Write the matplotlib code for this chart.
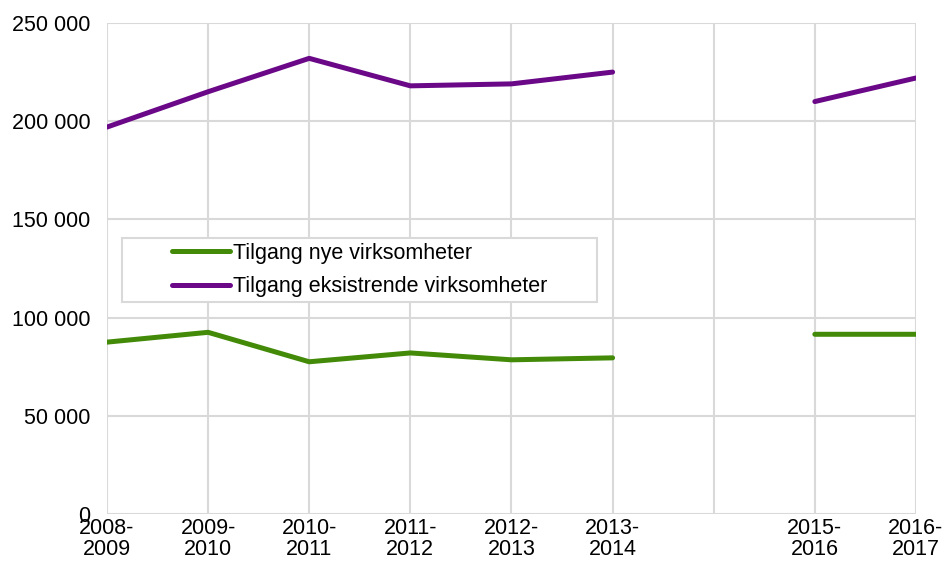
import numpy as np
import matplotlib.pyplot as plt
from matplotlib.patches import Rectangle

plt.rcParams['font.family'] = ['Liberation Sans', 'DejaVu Sans']

# Perioder (2014-2015 mangler)
perioder = ["2008-\n2009", "2009-\n2010", "2010-\n2011", "2011-\n2012", "2012-\n2013",
            "2013-\n2014", "", "2015-\n2016", "2016-\n2017"]
nye = [87500, 92500, 77500, 82000, 78500, 79500, np.nan, 91500, 91500]
eksisterende = [197000, 215000, 232000, 218000, 219000, 225000, np.nan, 210000, 222000]

fs = 15.5
fig = plt.figure(figsize=(9.44, 5.65), dpi=100)
ax = fig.add_axes([0.1133, 0.0903, 0.857, 0.869])

x = np.arange(len(perioder))
ax.plot(x, nye, color="#428a08", lw=3.6, solid_capstyle="round", label="Tilgang nye virksomheter")
ax.plot(x, eksisterende, color="#6a0888", lw=3.6, solid_capstyle="round",
        label="Tilgang eksistrende virksomheter")

ax.set_xlim(0, 8)
ax.set_ylim(0, 250000)
ax.set_xticks(x)
ax.set_xticklabels(perioder, fontsize=fs, linespacing=1.0)
yt = np.arange(0, 250001, 50000)
ax.set_yticks(yt)
ax.set_yticklabels([f"{v:,}".replace(",", " ") for v in yt], fontsize=fs)
ax.tick_params(length=0)
ax.tick_params(axis="y", pad=12)
ax.tick_params(axis="x", pad=3)
ax.grid(True, color="#d9d9d9", lw=1.5)
ax.set_axisbelow(True)
for s in ax.spines.values():
    s.set_visible(False)

# legendeboks
ax.add_patch(Rectangle((0.0185, 0.432), 0.587, 0.130, transform=ax.transAxes,
                       facecolor="white", edgecolor="#d9d9d9", lw=1.5, zorder=3))
leg = ax.legend(loc="center", bbox_to_anchor=(0.312, 0.497), frameon=False,
                fontsize=fs, labelspacing=0.58, handlelength=2.7, handletextpad=0.15,
                borderpad=0, borderaxespad=0)
leg.set_zorder(4)

plt.savefig("out.png")
